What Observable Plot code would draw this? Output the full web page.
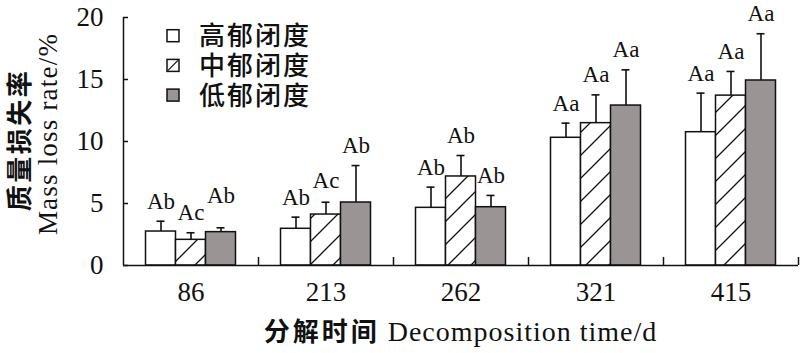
<!DOCTYPE html>
<html>
<head>
<meta charset="utf-8">
<script src="https://cdn.jsdelivr.net/npm/d3@7"></script>
<script src="https://cdn.jsdelivr.net/npm/@observablehq/plot@0.6"></script>
<style>
  html, body { margin: 0; padding: 0; background: #fff; }
  #chart { width: 800px; height: 353px; }
</style>
</head>
<body>
<div id="chart"></div>
<script>
// ---- data ----
const days = ["86", "213", "262", "321", "415"];
const series = ["高郁闭度", "中郁闭度", "低郁闭度"];
const highMean = [2.74, 2.96, 4.65, 10.30, 10.75];
const highSd   = [0.83, 0.94, 1.67, 1.18, 3.15];
const midMean  = [2.07, 4.11, 7.18, 11.48, 13.70];
const midSd    = [0.57, 0.99, 1.69, 2.28, 1.95];
const lowMean  = [2.69, 5.08, 4.70, 12.90, 14.92];
const lowSd    = [0.35, 2.98, 0.95, 2.88, 3.77];
const highLetters = ["Ab", "Ab", "Ab", "Aa", "Aa"];
const midLetters  = ["Ac", "Ac", "Ab", "Aa", "Aa"];
const lowLetters  = ["Ab", "Ab", "Ab", "Aa", "Aa"];
const yTicks = [0, 5, 10, 15, 20];
const yTitleZh = "质量损失率";
const yTitleEn = "Mass loss rate/%";
const xTitleZh = "分解时间";
const xTitleEn = "Decomposition time/d";

// ---- styles / layout ----
const fills = ["#ffffff", "url(#hatch)", "#9b9494"];
const W = 800, H = 353, ML = 123, MR = 2, MT = 17, MB = 88;
const step = (W - ML - MR) / days.length;   // band per day
const barW = step * (2 / 3) / series.length; // each bar
const inset = (step - barW) / 2;
const serif = "'Liberation Serif', 'Times New Roman', serif";
const cjk = "'Noto Sans CJK SC', sans-serif";

const means = [highMean, midMean, lowMean];
const sds = [highSd, midSd, lowSd];
const letters = [highLetters, midLetters, lowLetters];

const rows = series.map((s, k) => days.map((d, i) => ({
  day: d, series: s, value: means[k][i], sd: sds[k][i],
  top: means[k][i] + sds[k][i], letter: letters[k][i]
})));

// label heights: sit above the error bar; lift a label if it would collide with its left neighbour
const minSep = 1.35;
days.forEach((d, i) => {
  for (let k = 0; k < series.length; k++) {
    let base = rows[k][i].top;
    if (k > 0) {
      const prev = rows[k - 1][i].labelY;
      if (base > prev && base - prev < minSep) base = prev + minSep;
    }
    rows[k][i].labelY = base;
  }
});

const marks = [];
series.forEach((s, k) => {
  const off = (k - 1) * barW;
  marks.push(Plot.barY(rows[k], {
    x: "day", y1: 0, y2: "value", fill: fills[k], stroke: "#111", strokeWidth: 1.5,
    insetLeft: inset, insetRight: inset, dx: off
  }));
});
series.forEach((s, k) => {
  const off = (k - 1) * barW;
  marks.push(Plot.ruleX(rows[k], {x: "day", y1: "value", y2: "top", stroke: "#111", strokeWidth: 1.6, dx: off}));
  marks.push(Plot.tickY(rows[k], {x: "day", y: "top", stroke: "#111", strokeWidth: 1.6,
    insetLeft: step / 2 - 4, insetRight: step / 2 - 4, dx: off}));
  marks.push(Plot.text(rows[k], {x: "day", y: "labelY", text: "letter", dx: off, dy: -20,
    fontSize: 23, fontFamily: serif, fill: "#111"}));
});
// axis lines and tick marks
marks.push(Plot.ruleY([0], {stroke: "#111", strokeWidth: 1.5}));
marks.push(Plot.ruleX([days[0]], {x: d => d, dx: -step / 2, stroke: "#111", strokeWidth: 1.5}));
marks.push(Plot.ruleX(days, {x: d => d, y1: 0, y2: 0.65, dx: step / 2, stroke: "#111", strokeWidth: 1.5}));
marks.push(Plot.ruleY(yTicks, {y: d => d, insetRight: (W - ML - MR) - 5, stroke: "#111", strokeWidth: 1.5}));

const svgEl = Plot.plot({
  width: W, height: H,
  marginLeft: ML, marginRight: MR, marginTop: MT, marginBottom: MB,
  style: {fontFamily: serif, fontSize: "27px", color: "#111", background: "#fff", overflow: "visible"},
  x: {type: "band", domain: days, padding: 0, tickSize: 0, tickPadding: 16, label: null},
  y: {domain: [0, 20], ticks: yTicks, tickSize: 0, tickPadding: 20, label: null},
  marks
});

const svg = d3.select(svgEl);
// hatch pattern
const defs = svg.insert("defs", ":first-child");
const pat = defs.append("pattern").attr("id", "hatch").attr("patternUnits", "userSpaceOnUse")
  .attr("width", 23).attr("height", 23);
pat.append("rect").attr("width", 23).attr("height", 23).attr("fill", "#fff");
pat.append("path").attr("d", "M0,23 L23,0 M-3,3 L3,-3 M20,26 L26,20")
  .attr("stroke", "#111").attr("stroke-width", 1.3);

// legend
const lg = svg.append("g").attr("text-anchor", "start");
series.forEach((s, k) => {
  const cy = 35.7 + k * 29.7;
  lg.append("rect").attr("x", 167).attr("y", cy - 6).attr("width", 12).attr("height", 12)
    .attr("fill", k === 1 ? "#fff" : fills[k]).attr("stroke", "#111").attr("stroke-width", 1.5);
  if (k === 1) lg.append("line").attr("x1", 168).attr("y1", cy + 5).attr("x2", 178).attr("y2", cy - 5)
    .attr("stroke", "#111").attr("stroke-width", 1.3);
  lg.append("text").attr("x", 199).attr("y", cy - 2).attr("dominant-baseline", "central")
    .attr("text-anchor", "start")
    .attr("font-family", cjk).attr("font-size", 26).attr("font-weight", 500)
    .attr("letter-spacing", 2).attr("fill", "#111").text(s);
});

// y title (two rotated lines)
svg.append("text").attr("transform", "translate(17,140) rotate(-90)")
  .attr("text-anchor", "middle").attr("dominant-baseline", "central")
  .attr("font-family", cjk).attr("font-size", 26).attr("font-weight", 700)
  .attr("letter-spacing", 2.5).attr("fill", "#111").text(yTitleZh);
svg.append("text").attr("transform", "translate(48,134) rotate(-90)")
  .attr("text-anchor", "middle").attr("dominant-baseline", "central")
  .attr("font-family", serif).attr("font-size", 27)
  .attr("letter-spacing", 1.2).attr("fill", "#111").text(yTitleEn);

// x title
const xt = svg.append("text").attr("x", ML + (W - ML - MR) / 2).attr("y", 341)
  .attr("text-anchor", "middle").attr("fill", "#111");
xt.append("tspan").attr("font-family", cjk).attr("font-size", 26).attr("font-weight", 700)
  .attr("letter-spacing", 3).text(xTitleZh);
xt.append("tspan").attr("font-family", serif).attr("font-size", 28)
  .attr("letter-spacing", 1).text(" " + xTitleEn);

document.getElementById("chart").appendChild(svgEl);
</script>
</body>
</html>
